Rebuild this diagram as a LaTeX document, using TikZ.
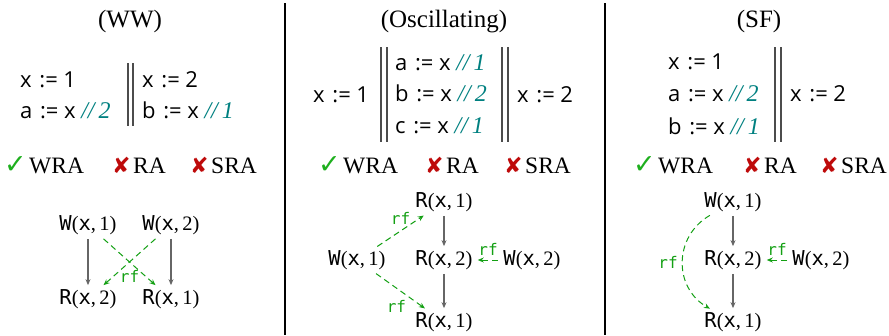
\documentclass[tikz,border=0pt]{standalone}
\usepackage{fontspec}
\setmainfont{Liberation Serif}
\setsansfont{Open Sans}
\setmonofont{DejaVu Sans Mono}
\newfontfamily\symfont{DejaVu Sans}
\usetikzlibrary{arrows.meta}

\definecolor{rfgreen}{RGB}{20,160,20}
\definecolor{okgreen}{RGB}{30,175,30}
\definecolor{badred}{RGB}{190,10,10}
\definecolor{cmtteal}{RGB}{0,128,128}

\newcommand{\ok}{\makebox[25pt][l]{\color{okgreen}\symfont\fontsize{27}{30}\selectfont ✓}}
\newcommand{\bad}{\makebox[21pt][l]{\color{badred}\symfont\fontsize{22}{30}\selectfont ✘}}
\newcommand{\cmt}[1]{{\rmfamily\itshape\fontsize{24}{26}\selectfont\color{cmtteal}//\,#1}}
\newcommand{\asg}{\hspace{0.35em}:=\hspace{0.25em}}
\newcommand{\ev}[3]{\texttt{#1}(\texttt{#2},\,#3)}

\tikzset{
  title/.style={font=\fontsize{25}{30}\selectfont, anchor=base, inner sep=0pt},
  code/.style={font=\sffamily\fontsize{22}{26}\selectfont, anchor=base west, inner sep=0pt},
  verdict/.style={font=\fontsize{23.5}{28}\selectfont, anchor=base west, inner sep=0pt},
  event/.style={font=\fontsize{20.5}{24}\selectfont, inner sep=2pt},
  bar/.style={line width=1.4pt, black!70},
  sep/.style={line width=1.2pt, black},
  po/.style={-{Stealth[length=6pt,width=5pt]}, line width=1.1pt, black!60, shorten <=2pt, shorten >=2pt},
  rf/.style={-{Stealth[length=6pt,width=5pt]}, dashed, dash pattern=on 6pt off 4pt, line width=1pt, rfgreen, shorten <=3pt, shorten >=3pt},
  rfl/.style={font=\ttfamily\fontsize{16}{18}\selectfont, text=rfgreen, inner sep=1pt}
}

\begin{document}
\begin{tikzpicture}[x=1pt,y=1pt]
    \useasboundingbox (0,0) rectangle (889,-335);

    % Separators
    \coordinate (s1t) at (285,-3);
    \coordinate (s1b) at (285,-335);
    \coordinate (s2t) at (605,-3);
    \coordinate (s2b) at (605,-335);
    \draw[sep] (s1t) -- (s1b);
    \draw[sep] (s2t) -- (s2b);

    % (WW)
    \node[title] (ttlww) at (130,-27) {(WW)};
    \node[code] (wwa) at (20,-87) {x\asg 1};
    \node[code] (wwb) at (20,-118) {a\asg x \cmt{2}};
    \node[code] (wwc) at (142,-87) {x\asg 2};
    \node[code] (wwd) at (142,-118) {b\asg x \cmt{1}};
    \draw[bar] (128,-63) -- (128,-126);
    \draw[bar] (133,-63) -- (133,-126);
    \node[verdict] (wwv1) at (4,-173) {\ok WRA};
    \node[verdict] (wwv2) at (112,-173) {\bad RA};
    \node[verdict] (wwv3) at (190,-173) {\bad SRA};

    \node[event] (wwwa) at (88,-225) {\ev{W}{x}{1}};
    \node[event] (wwwb) at (171,-225) {\ev{W}{x}{2}};
    \node[event] (wwrb) at (88,-299) {\ev{R}{x}{2}};
    \node[event] (wwra) at (171,-299) {\ev{R}{x}{1}};
    \draw[po] (wwwa) -- (wwrb);
    \draw[po] (wwwb) -- (wwra);
    \draw[rf] (wwwa) -- (wwra) node[rfl, midway, below=7pt] (wwrf) {rf};
    \draw[rf] (wwwb) -- (wwrb);

    % (Oscillating)
    \node[title] (ttlosc) at (444,-27) {(Oscillating)};
    \node[code] (osca) at (313,-102) {x\asg 1};
    \node[code] (oscb) at (395,-70) {a\asg x \cmt{1}};
    \node[code] (oscc) at (395,-101) {b\asg x \cmt{2}};
    \node[code] (oscd) at (395,-133) {c\asg x \cmt{1}};
    \node[code] (osce) at (517,-102) {x\asg 2};
    \draw[bar] (381,-47) -- (381,-142);
    \draw[bar] (387,-47) -- (387,-142);
    \draw[bar] (502,-47) -- (502,-142);
    \draw[bar] (508,-47) -- (508,-142);
    \node[verdict] (oscv1) at (318,-173) {\ok WRA};
    \node[verdict] (oscv2) at (425,-173) {\bad RA};
    \node[verdict] (oscv3) at (504,-173) {\bad SRA};

    \node[event] (oscra) at (444,-202) {\ev{R}{x}{1}};
    \node[event] (oscrb) at (444,-260) {\ev{R}{x}{2}};
    \node[event] (oscrc) at (444,-322) {\ev{R}{x}{1}};
    \node[event] (oscwa) at (357,-260) {\ev{W}{x}{1}};
    \node[event] (oscwb) at (532,-260) {\ev{W}{x}{2}};
    \draw[po] (oscra) -- (oscrb);
    \draw[po] (oscrb) -- (oscrc);
    \draw[rf] (oscwb) -- (oscrb) node[rfl, midway, above=3pt] (oscrf1) {rf};
    \draw[rf] (oscwa) -- (oscra) node[rfl, midway, above=5pt] (oscrf2) {rf};
    \draw[rf] (oscwa) -- (oscrc) node[rfl, midway, below=8pt, xshift=-4pt] (oscrf3) {rf};

    % (SF)
    \node[title] (ttlsf) at (759,-27) {(SF)};
    \node[code] (sfa) at (668,-69) {x\asg 1};
    \node[code] (sfb) at (668,-101) {a\asg x \cmt{2}};
    \node[code] (sfc) at (668,-134) {b\asg x \cmt{1}};
    \node[code] (sfd) at (790,-101) {x\asg 2};
    \draw[bar] (775,-47) -- (775,-142);
    \draw[bar] (781,-47) -- (781,-142);
    \node[verdict] (sfv1) at (633,-173) {\ok WRA};
    \node[verdict] (sfv2) at (743,-173) {\bad RA};
    \node[verdict] (sfv3) at (820,-173) {\bad SRA};

    \node[event] (sfwa) at (733,-202) {\ev{W}{x}{1}};
    \node[event] (sfrb) at (733,-260) {\ev{R}{x}{2}};
    \node[event] (sfwb) at (821,-260) {\ev{W}{x}{2}};
    \node[event] (sfra) at (733,-322) {\ev{R}{x}{1}};
    \draw[po] (sfwa) -- (sfrb);
    \draw[po] (sfrb) -- (sfra);
    \draw[rf] (sfwb) -- (sfrb) node[rfl, midway, above=3pt] (sfrf1) {rf};
    \draw[rf] (sfwa) to[bend right=60, looseness=1.2] node[rfl, midway, left=4pt] (sfrf2) {rf} (sfra);

\end{tikzpicture}
\end{document}
